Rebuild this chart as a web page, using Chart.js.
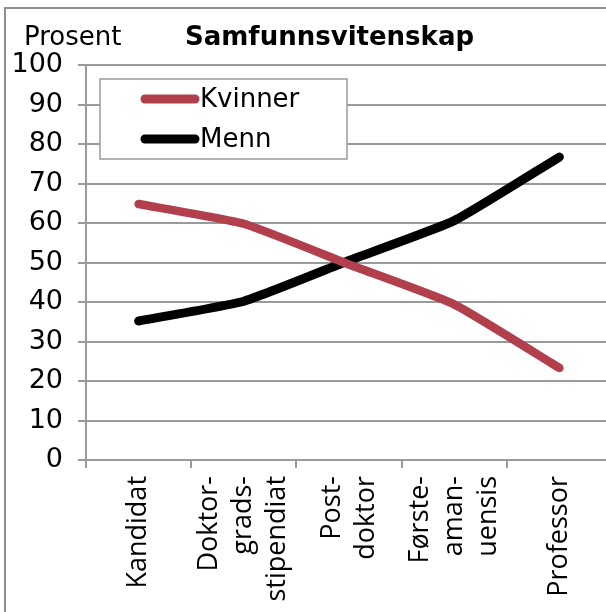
<!DOCTYPE html>
<html>
<head>
<meta charset="utf-8">
<script src="https://cdn.jsdelivr.net/npm/chart.js@4/dist/chart.umd.min.js"></script>
<style>
  html, body { margin: 0; padding: 0; overflow: hidden; background: #fff; width: 606px; height: 612px; }
  #frame { position: absolute; left: 4px; top: 7px; width: 700px; height: 700px; border: 2px solid #8f8f8f; box-sizing: border-box; }
  #chart { position: absolute; left: 0; top: 0; }
</style>
</head>
<body>
<div id="frame"></div>
<canvas id="chart" width="612" height="612"></canvas>
<script>
// Values
var categories = [["Kandidat"], ["Doktor-", "grads-", "stipendiat"], ["Post-", "doktor"], ["Første-", "aman-", "uensis"], ["Professor"]];
var kvinner = [64.8, 59.8, 49.5, 39.4, 23.3];
var menn = [35.2, 40.2, 50.5, 60.6, 76.7];
var yTickValues = [0, 10, 20, 30, 40, 50, 60, 70, 80, 90, 100];
var seriesNames = ["Kvinner", "Menn"];
var titleText = "Samfunnsvitenskap";
var unitText = "Prosent";

var FONT = '"DejaVu Sans", Verdana, sans-serif';
var XFONT = '"Open Sans", "DejaVu Sans", sans-serif';
var GRID = '#9a9a9a';
var X_LINE_HEIGHT = 34;

// Chart.js puts the first line of a rotated label on the tick, centre the whole block instead
var centerLabels = {
  id: 'centerLabels',
  beforeDraw: function(chart) {
    var items = chart.scales.x.getLabelItems();
    items.forEach(function(item) {
      if (item._centered) return;
      var n = Array.isArray(item.label) ? item.label.length : 1;
      item.textOffset -= (n - 1) * X_LINE_HEIGHT / 2;
      item._centered = true;
    });
  }
};

// "Prosent" over the axis and the bold title
var headings = {
  id: 'headings',
  afterDraw: function(chart) {
    var ctx = chart.ctx;
    ctx.save();
    ctx.fillStyle = '#000';
    ctx.textBaseline = 'alphabetic';
    ctx.textAlign = 'left';
    ctx.font = '26px ' + FONT;
    ctx.fillText(unitText, 24, 45);
    ctx.font = 'bold 26px ' + FONT;
    ctx.fillText(titleText, 185, 45);
    ctx.restore();
  }
};

// Legend box sitting inside the plot area
var boxLegend = {
  id: 'boxLegend',
  afterDatasetsDraw: function(chart) {
    var ctx = chart.ctx;
    ctx.save();
    ctx.fillStyle = '#fff';
    ctx.fillRect(100, 79, 247, 80);
    ctx.strokeStyle = GRID;
    ctx.lineWidth = 1.5;
    ctx.strokeRect(100, 79, 247, 80);
    chart.data.datasets.forEach(function(ds, i) {
      var y = 99 + i * 40;
      ctx.strokeStyle = ds.borderColor;
      ctx.lineWidth = 9;
      ctx.lineCap = 'round';
      ctx.beginPath();
      ctx.moveTo(145, y);
      ctx.lineTo(195, y);
      ctx.stroke();
      ctx.fillStyle = '#000';
      ctx.font = '26px ' + FONT;
      ctx.textBaseline = 'middle';
      ctx.fillText(ds.label, 200, y + 1);
    });
    ctx.restore();
  }
};

var ctx = document.getElementById('chart').getContext('2d');
var chart = new Chart(ctx, {
  type: 'line',
  data: {
    labels: categories,
    datasets: [
      {
        label: seriesNames[0],
        data: kvinner,
        borderColor: '#b2404c',
        borderWidth: 8.5,
        borderCapStyle: 'round',
        borderJoinStyle: 'round',
        pointRadius: 0,
        tension: 0.15
      },
      {
        label: seriesNames[1],
        data: menn,
        borderColor: '#000000',
        borderWidth: 9,
        borderCapStyle: 'round',
        borderJoinStyle: 'round',
        pointRadius: 0,
        tension: 0.15
      }
    ]
  },
  options: {
    responsive: false,
    animation: false,
    layout: { padding: { top: 65, left: 0, right: 0, bottom: 0 } },
    plugins: {
      legend: { display: false },
      title: { display: false },
      tooltip: { enabled: false }
    },
    scales: {
      x: {
        offset: true,
        grid: { offset: true, drawOnChartArea: false, drawTicks: true, tickLength: 8, color: GRID, lineWidth: 2 },
        border: { color: GRID, width: 2 },
        ticks: {
          minRotation: 90,
          maxRotation: 90,
          autoSkip: false,
          padding: 8,
          color: '#000',
          font: { family: XFONT, size: 27, lineHeight: X_LINE_HEIGHT / 27 }
        },
        afterFit: function(scale) { scale.height = 152; }
      },
      y: {
        min: 0,
        max: 100,
        afterBuildTicks: function(scale) {
          scale.ticks = yTickValues.map(function(v) { return { value: v }; });
        },
        grid: { color: GRID, lineWidth: 2, tickLength: 8 },
        border: { color: GRID, width: 2 },
        ticks: { padding: 15, color: '#000', font: { family: FONT, size: 27 } },
        afterFit: function(scale) { scale.width = 86; }
      }
    }
  },
  plugins: [centerLabels, headings, boxLegend]
});
</script>
</body>
</html>
